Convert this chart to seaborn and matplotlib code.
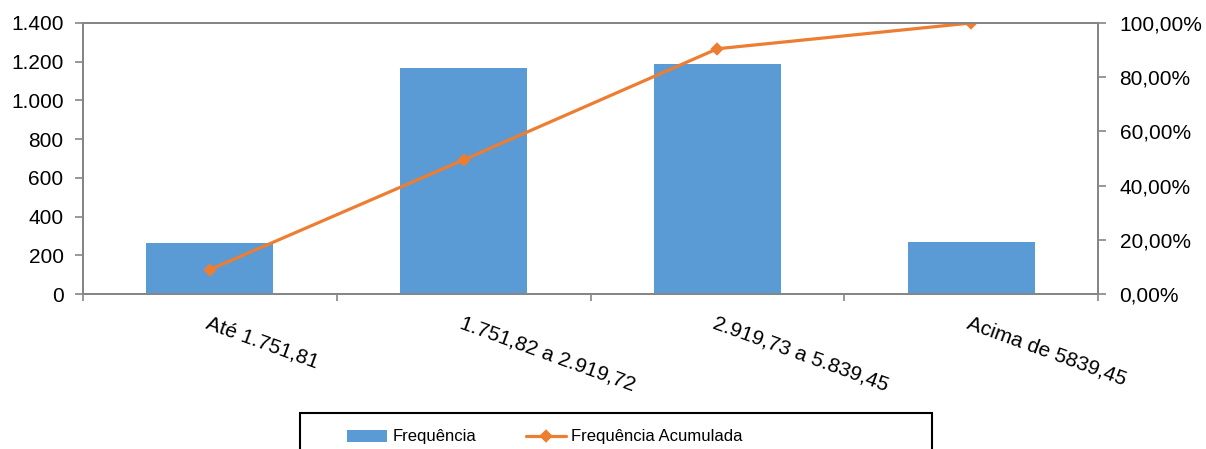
import matplotlib
matplotlib.use('Agg')
import matplotlib.pyplot as plt
from matplotlib.patches import Rectangle
from matplotlib.ticker import FuncFormatter
import seaborn as sns
import pandas as pd

# valores
faixas = ['Até 1.751,81', '1.751,82 a 2.919,72', '2.919,73 a 5.839,45', 'Acima de 5839,45']
frequencia = [262, 1166, 1187, 270]
freq_acumulada = [0.09, 0.495, 0.905, 1.0]

sns.set_theme(style='white')
plt.rcParams['font.family'] = ['Liberation Sans', 'DejaVu Sans']
plt.rcParams['text.color'] = 'black'
plt.rcParams['xtick.labelcolor'] = 'black'
plt.rcParams['ytick.labelcolor'] = 'black'

azul = '#5B9BD5'
laranja = '#ED7D31'
cinza = '#868686'

df = pd.DataFrame({'faixa': faixas, 'freq': frequencia, 'acum': freq_acumulada})

fig = plt.figure(figsize=(12.06, 4.49), dpi=100)
ax = fig.add_axes([83/1206, 1 - 294/449, (1098 - 83)/1206, (294 - 23)/449])

sns.barplot(data=df, x='faixa', y='freq', color=azul, width=0.5, linewidth=0,
            saturation=1, ax=ax, label='Frequência')

ax2 = ax.twinx()
sns.pointplot(data=df, x='faixa', y='acum', color=laranja, markers='D',
              markersize=5.5, linewidth=2.3, ax=ax2, label='Frequência Acumulada')

ax.set_xlim(-0.5, 3.5)
ax.set_ylim(0, 1400)
ax2.set_ylim(0, 1.0)
ax.set_xlabel('')
ax.set_ylabel('')
ax2.set_xlabel('')
ax2.set_ylabel('')

ax.set_yticks(range(0, 1401, 200))
ax.yaxis.set_major_formatter(FuncFormatter(lambda v, p: f'{int(v):,}'.replace(',', '.')))
ax2.set_yticks([0, 0.2, 0.4, 0.6, 0.8, 1.0])
ax2.yaxis.set_major_formatter(FuncFormatter(lambda v, p: f'{v*100:.2f}%'.replace('.', ',')))

# ticks de categoria nas fronteiras, rotulos no centro
ax.set_xticks([-0.5, 0.5, 1.5, 2.5, 3.5])
ax.set_xticklabels([])
ax.set_xticks(range(len(faixas)), minor=True)
ax.set_xticklabels(faixas, minor=True, rotation=-20, ha='left', va='top',
                   rotation_mode='anchor', fontsize=15)
ax.tick_params(axis='x', which='minor', length=0, pad=14)
ax.tick_params(axis='x', which='major', direction='out', length=5, width=1.2,
               color=cinza, bottom=True)
ax.tick_params(axis='y', direction='out', length=5.5, width=1.2, color=cinza,
               left=True, labelsize=15, pad=8.5)
ax2.tick_params(axis='y', direction='out', length=5.5, width=1.2, color=cinza,
                right=True, labelsize=15, pad=10)

for a in (ax, ax2):
    for s in a.spines.values():
        s.set_color(cinza)
        s.set_linewidth(1.4)
    a.grid(False)

# legenda
h1, l1 = ax.get_legend_handles_labels()
h2, l2 = ax2.get_legend_handles_labels()
if ax.get_legend():
    ax.get_legend().remove()
if ax2.get_legend():
    ax2.get_legend().remove()
fig.legend(h1 + h2, l1 + l2, loc='center left', bbox_to_anchor=(339/1206, 1 - 437/449),
           ncol=2, frameon=False, borderpad=0, handlelength=2.4,
           handletextpad=0.3, columnspacing=3.0, fontsize=12)
fig.add_artist(Rectangle((300/1206, -0.1), (932 - 300)/1206, 0.1 + 1 - 413/449,
                         transform=fig.transFigure, fill=False, edgecolor='black',
                         linewidth=1.5))

fig.savefig('out.png', dpi=100)
